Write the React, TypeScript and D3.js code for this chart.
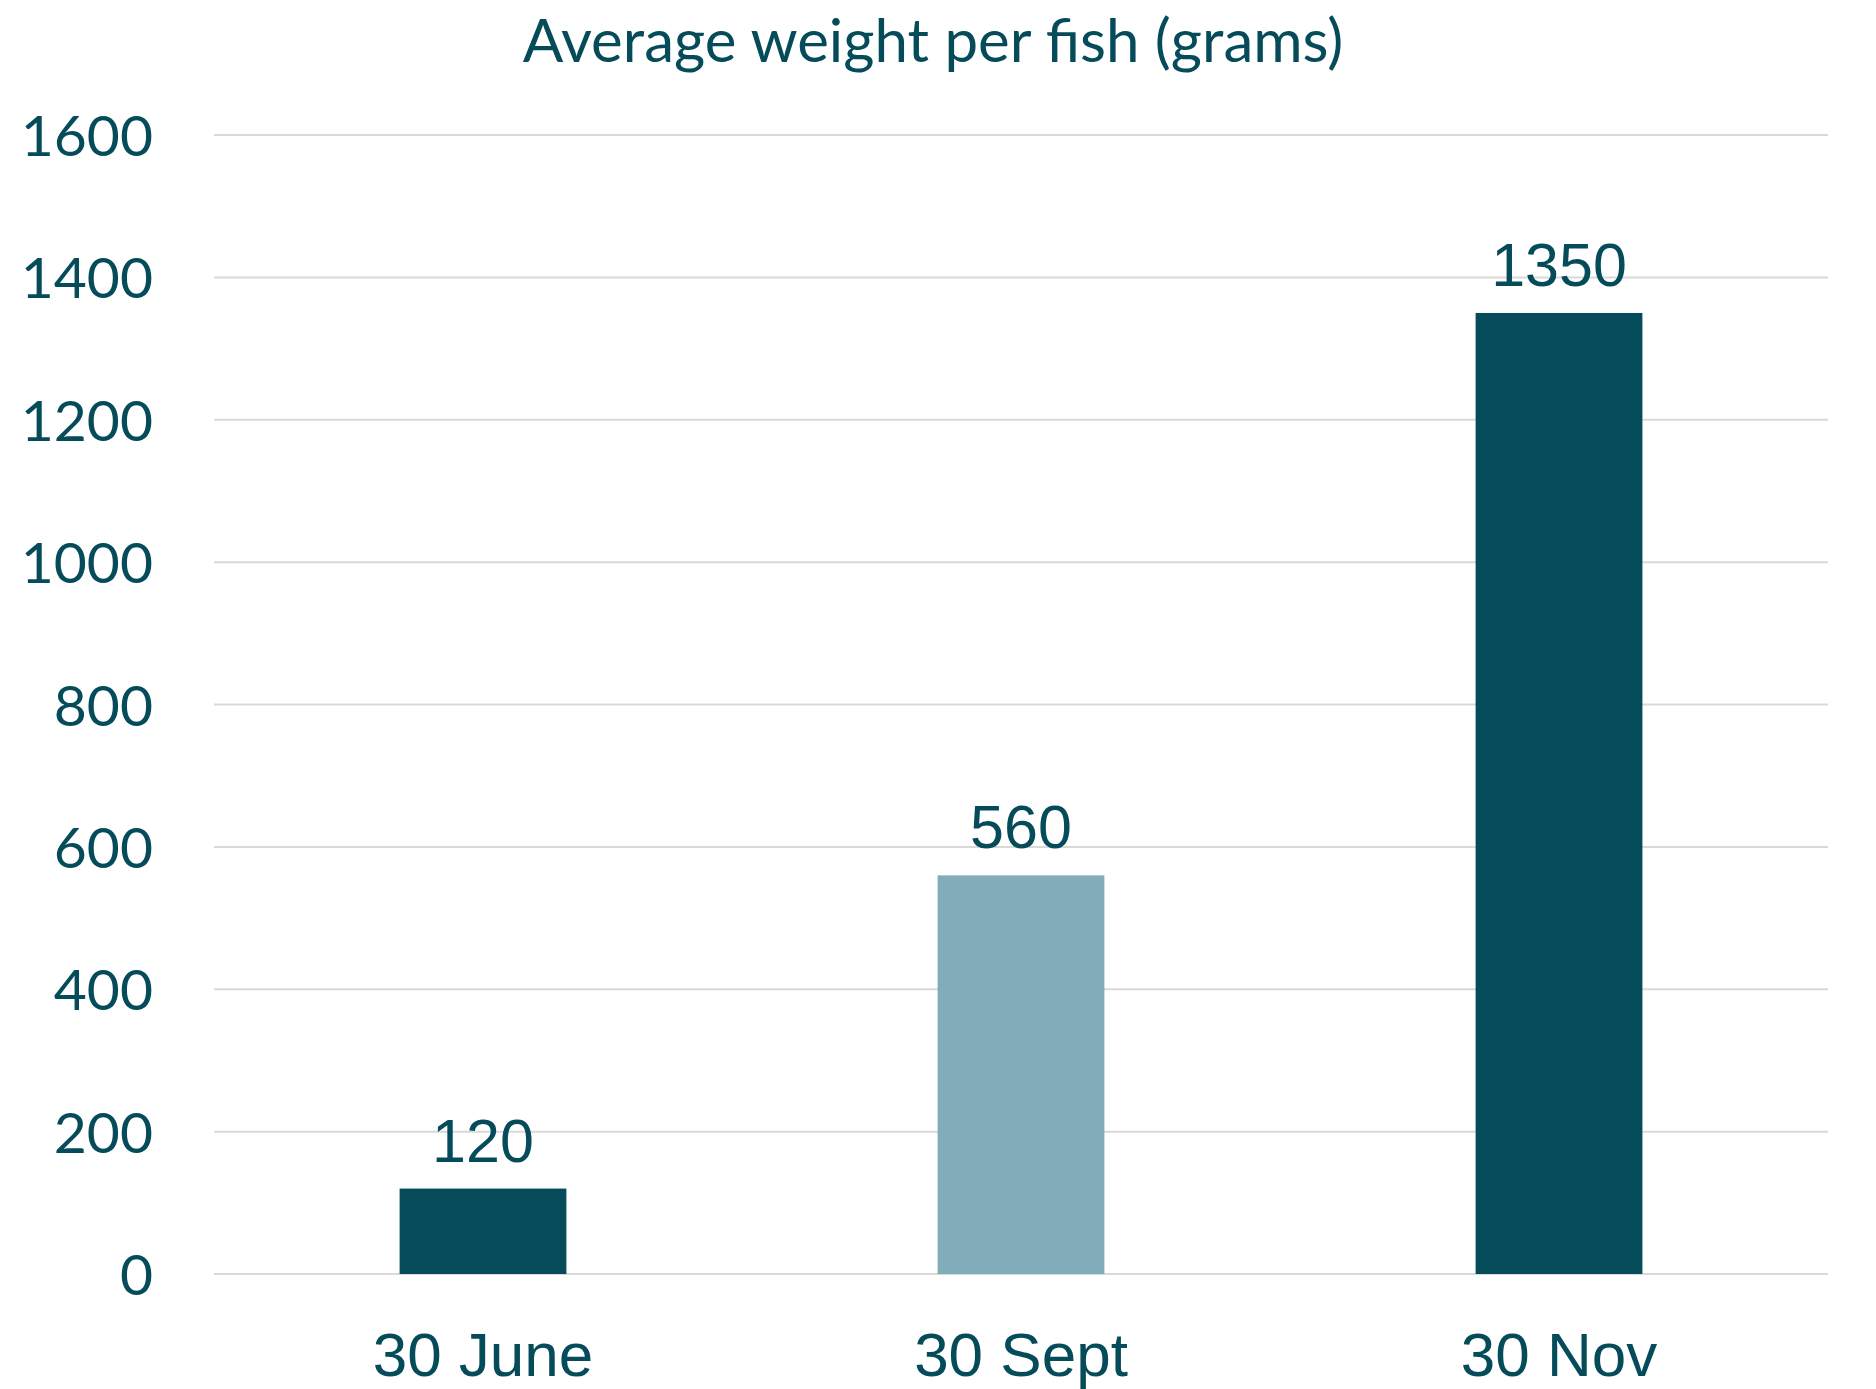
import * as d3 from 'd3';
import React, { useEffect, useRef } from 'react';

const categories = ['30 June', '30 Sept', '30 Nov'];
const values = [120, 560, 1350];
const barColors = ['#054B5A', '#80ADB9', '#054B5A'];
const yTicks = [0, 200, 400, 600, 800, 1000, 1200, 1400, 1600];
const title = 'Average weight per fish (grams)';

const W = 1876;
const H = 1389;
const textColor = '#054B5A';
const calibriLike = 'Lato, "Open Sans", sans-serif';
const arialLike = '"Liberation Sans", Arial, sans-serif';

export default function App() {
  const ref = useRef<SVGSVGElement>(null);

  useEffect(() => {
    const svg = d3.select(ref.current);
    svg.selectAll('*').remove();

    const margin = { top: 135, right: 48, bottom: 115, left: 214 };
    const innerW = W - margin.left - margin.right;
    const innerH = H - margin.top - margin.bottom;

    const x = d3.scaleBand<string>()
      .domain(categories)
      .range([0, innerW])
      .paddingInner(0.69)
      .paddingOuter(0.345);

    const y = d3.scaleLinear()
      .domain([0, 1600])
      .range([innerH, 0]);

    svg.append('rect').attr('width', W).attr('height', H).attr('fill', '#fff');

    // title, centred over the whole chart
    svg.append('text')
      .attr('x', 933)
      .attr('y', 62)
      .attr('text-anchor', 'middle')
      .attr('font-family', calibriLike)
      .attr('font-size', 60)
      .attr('fill', textColor)
      .text(title);

    const g = svg.append('g').attr('transform', `translate(${margin.left},${margin.top})`);

    // gridlines
    g.selectAll('.grid')
      .data(yTicks)
      .enter().append('line')
      .attr('class', 'grid')
      .attr('x1', 0)
      .attr('x2', innerW)
      .attr('y1', d => y(d))
      .attr('y2', d => y(d))
      .attr('stroke', '#d9d9d9')
      .attr('stroke-width', 2);

    // y tick labels
    g.selectAll('.ytick')
      .data(yTicks)
      .enter().append('text')
      .attr('class', 'ytick')
      .attr('x', -61)
      .attr('y', d => y(d) + 21)
      .attr('text-anchor', 'end')
      .attr('font-family', calibriLike)
      .attr('font-size', 57)
      .attr('fill', textColor)
      .text(d => String(d));

    // bars
    g.selectAll('.bar')
      .data(values)
      .enter().append('rect')
      .attr('class', 'bar')
      .attr('x', (d, i) => x(categories[i]) as number)
      .attr('width', x.bandwidth())
      .attr('y', d => y(d))
      .attr('height', d => innerH - y(d))
      .attr('fill', (d, i) => barColors[i]);

    // value labels
    g.selectAll('.val')
      .data(values)
      .enter().append('text')
      .attr('class', 'val')
      .attr('x', (d, i) => (x(categories[i]) as number) + x.bandwidth() / 2)
      .attr('y', d => y(d) - 27)
      .attr('text-anchor', 'middle')
      .attr('font-family', arialLike)
      .attr('font-size', 61)
      .attr('fill', textColor)
      .text(d => String(d));

    // category labels
    g.selectAll('.xlab')
      .data(categories)
      .enter().append('text')
      .attr('class', 'xlab')
      .attr('x', d => (x(d) as number) + x.bandwidth() / 2)
      .attr('y', innerH + 102)
      .attr('text-anchor', 'middle')
      .attr('font-family', arialLike)
      .attr('font-size', 62)
      .attr('fill', textColor)
      .text(d => d);
  }, []);

  return (
    <svg
      ref={ref}
      width={W}
      height={H}
      style={{ position: 'absolute', left: 0, top: 0, display: 'block' }}
    />
  );
}
